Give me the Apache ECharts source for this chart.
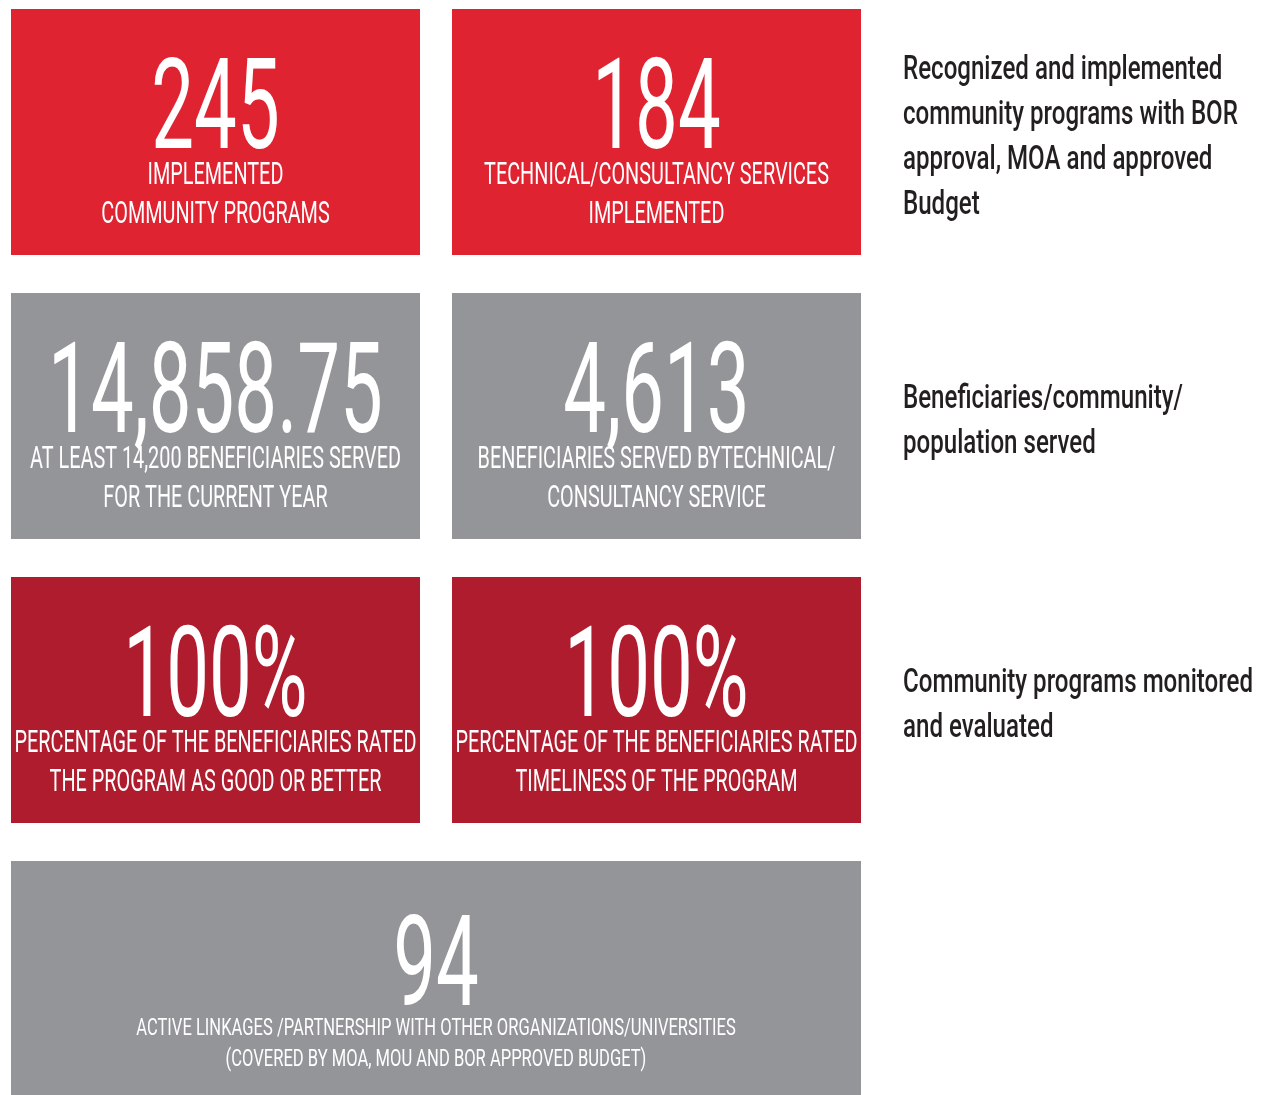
<!DOCTYPE html>
<html>
<head>
<meta charset="utf-8">
<script src="https://cdn.jsdelivr.net/npm/echarts@6/dist/echarts.min.js"></script>
<style>
  html, body { margin: 0; padding: 0; background: #fff; }
  #main { width: 1270px; height: 1095px; }
</style>
</head>
<body>
<div id="main"></div>
<script>
// tile figures
var figures = ['245', '184', '14,858.75', '4,613', '100%', '100%', '94'];
var captions = [
  'IMPLEMENTED\nCOMMUNITY PROGRAMS',
  'TECHNICAL/CONSULTANCY SERVICES\nIMPLEMENTED',
  'AT LEAST 14,200 BENEFICIARIES SERVED\nFOR THE CURRENT YEAR',
  'BENEFICIARIES SERVED BYTECHNICAL/\nCONSULTANCY SERVICE',
  'PERCENTAGE OF THE BENEFICIARIES RATED\nTHE PROGRAM AS GOOD OR BETTER',
  'PERCENTAGE OF THE BENEFICIARIES RATED\nTIMELINESS OF THE PROGRAM',
  'ACTIVE LINKAGES /PARTNERSHIP WITH OTHER ORGANIZATIONS/UNIVERSITIES\n(COVERED BY MOA, MOU AND BOR APPROVED BUDGET)'
];
var tileCol = [0, 1, 0, 1, 0, 1, 0];
var tileRow = [0, 0, 1, 1, 2, 2, 3];
var tileSpan = [1, 1, 1, 1, 1, 1, 2];
var tileColor = ['#df2331', '#df2331', '#949599', '#949599', '#af1c2e', '#af1c2e', '#949599'];

// side notes, one per row
var noteRow = [0, 1, 2];
var notes = [
  'Recognized and implemented\ncommunity programs with BOR\napproval, MOA and approved\nBudget',
  'Beneficiaries/community/\npopulation served',
  'Community programs monitored\nand evaluated'
];

var FONT = 'Roboto, "Liberation Sans", sans-serif';
var GAP_X = 32, GAP_Y = 38;

var myChart = echarts.init(document.getElementById('main'));

var tileData = figures.map(function (f, i) {
  return [tileCol[i], tileRow[i], tileSpan[i]];
});
var noteData = notes.map(function (n, i) {
  return [2, noteRow[i]];
});

// condensed look: plain font squeezed horizontally
function condensed(x, y, text, size, sx, align, extra) {
  return {
    type: 'text',
    x: x,
    y: y,
    scaleX: sx,
    style: {
      x: 0, y: 0,
      text: text,
      font: (extra && extra.weight || 'normal') + ' ' + size + 'px ' + FONT,
      fill: (extra && extra.fill) || '#fff',
      align: align,
      verticalAlign: 'middle',
      lineHeight: (extra && extra.lineHeight) || size
    }
  };
}

function renderTile(params, api) {
  var i = params.dataIndex;
  var p0 = api.coord([api.value(0), api.value(1)]);
  var p1 = api.coord([api.value(0) + api.value(2), api.value(1) + 1]);
  var w = p1[0] - p0[0] - GAP_X;
  var h = p1[1] - p0[1] - GAP_Y;
  var cx = p0[0] + w / 2;
  var wide = tileSpan[i] > 1;
  return {
    type: 'group',
    children: [
      { type: 'rect', shape: { x: p0[0], y: p0[1], width: w, height: h },
        style: { fill: tileColor[i] } },
      condensed(cx, p0[1] + (wide ? 112 : 107), figures[i], 127, 0.6, 'center'),
      wide
        ? condensed(cx, p0[1] + 184, captions[i], 23, 0.72, 'center', { lineHeight: 31 })
        : condensed(cx, p0[1] + 186, captions[i], 32, 0.62, 'center', { lineHeight: 39 })
    ]
  };
}

function renderNote(params, api) {
  var i = params.dataIndex;
  var p0 = api.coord([api.value(0), api.value(1)]);
  var p1 = api.coord([api.value(0), api.value(1) + 1]);
  var h = p1[1] - p0[1] - GAP_Y;
  return condensed(p0[0] + 10, p0[1] + h / 2 + 6, notes[i], 33, 0.73, 'left',
    { fill: '#231f20', lineHeight: 45, weight: '500' });
}

var option = {
  animation: false,
  grid: { left: 11, top: 9, width: 882, height: 852 },
  xAxis: { type: 'value', min: 0, max: 2, show: false },
  yAxis: { type: 'value', min: 0, max: 3, inverse: true, show: false },
  series: [
    { type: 'custom', renderItem: renderTile, data: tileData, clip: false, silent: true },
    { type: 'custom', renderItem: renderNote, data: noteData, clip: false, silent: true }
  ]
};
myChart.setOption(option);
</script>
</body>
</html>
